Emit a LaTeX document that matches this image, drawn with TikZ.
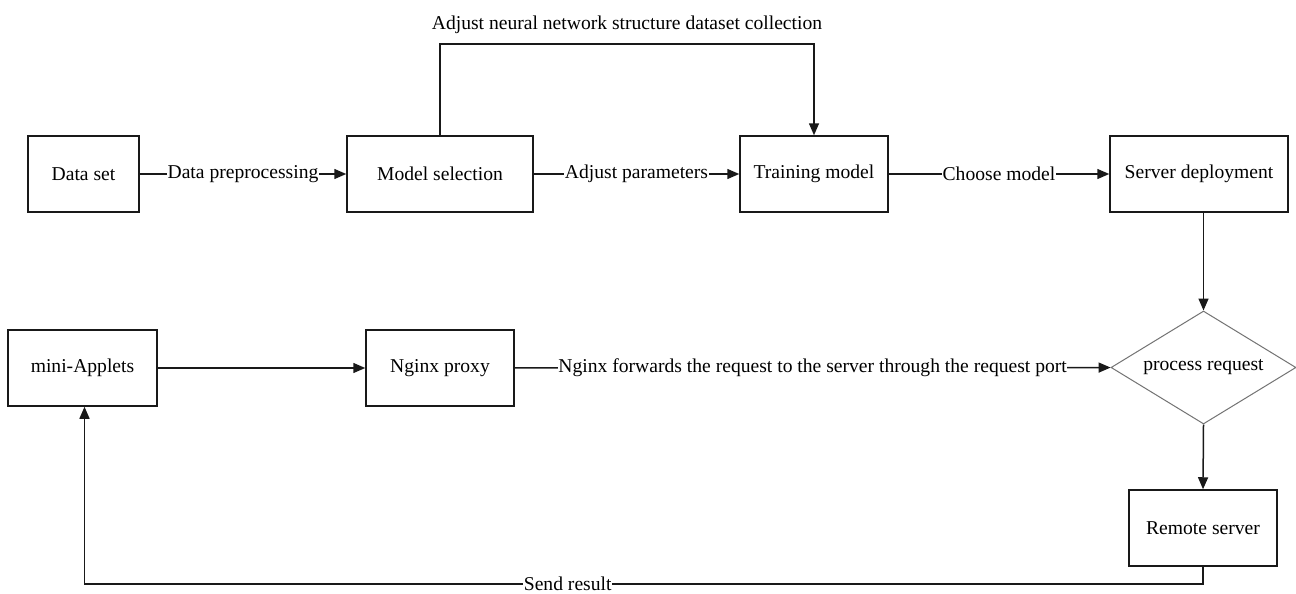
\documentclass[tikz,border=0pt]{standalone}
\usepackage{fontspec}
\setmainfont{Liberation Serif}
\usetikzlibrary{arrows.meta,shapes.geometric}
\begin{document}
\begin{tikzpicture}[x=1pt,y=-1pt,
  font=\fontsize{19.6}{22}\selectfont,
  box/.style={draw=black!90,line width=1.5pt,minimum height=76pt,inner sep=0pt},
  decision/.style={draw=black!55,line width=1pt,shape=diamond,aspect=1.64,inner sep=0pt,
    minimum width=185pt,minimum height=113pt},
  link/.style={line width=1.5pt,draw=black!90,-{Triangle[length=12pt,width=10pt]}},
  lbl/.style={fill=white,inner sep=0.5pt}]
\useasboundingbox[fill=white] (0,0) rectangle (1296,594);

% top row
\node[box,minimum width=111pt] (ds) at (83.5,174) {Data set};
\node[box,minimum width=186pt] (ms) at (440,174) {Model selection};
\node[box,minimum width=148pt] (tm) at (814,174) {Training model};
\node[box,minimum width=178pt] (sd) at (1199,174) {Server deployment};

% lower row
\node[box,minimum width=149pt] (ma) at (82.5,368) {mini-Applets};
\node[box,minimum width=148pt] (np) at (440,368) {Nginx proxy};
\node[decision] (pr) at (1203.5,367.5) {process request};
\node[box,minimum width=148pt] (rs) at (1203,528) {Remote server};

% connectors
\draw[link] (ds) -- node[lbl] {Data preprocessing} (ms);
\draw[link] (ms) -- node[lbl] {Adjust parameters} (tm);
\draw[link] (tm) -- node[lbl] {Choose model} (sd);
\draw[link] (ms.north) -- (440,44) -- node[above=6pt] {Adjust neural network structure dataset collection} (814,44) -- (tm.north);
\draw[link] (sd.south -| pr.north) -- (pr.north);
\draw[link] (ma) -- (np);
\draw[link] (np) -- node[lbl] {Nginx forwards the request to the server through the request port} (pr);
\draw[link] (pr.south) -- (rs.north);
\coordinate (turnR) at (1203,584);
\coordinate (turnL) at (84.5,584);
\draw[link] (rs.south) -- (turnR) -- node[lbl,pos=0.568] {Send result} (turnL) -- (ma.south -| turnL);
\end{tikzpicture}
\end{document}
